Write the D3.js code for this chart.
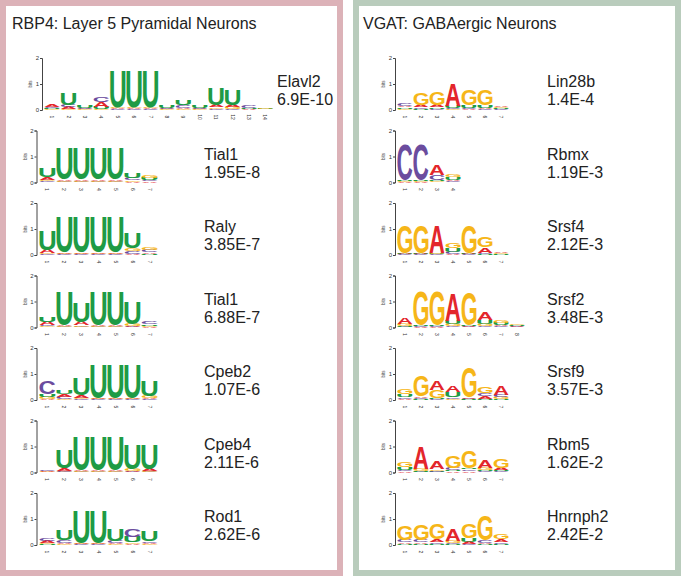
<!DOCTYPE html>
<html>
<head>
<meta charset="utf-8">
<script src="https://cdn.jsdelivr.net/npm/d3@7"></script>
<style>
  html, body { margin: 0; padding: 0; background: #ffffff; }
  svg { display: block; }
</style>
</head>
<body>
<svg id="chart" width="681" height="576"></svg>
<script>
// ---------- DATA (bits per position, order A, C, G, U) ----------
const letters = ["A", "C", "G", "U"];

// Left panel: RBP4 layer 5 pyramidal neurons
const elavl2 = [[0.08,0.06,0.03,0.03],[0.07,0.10,0.03,0.45],[0.03,0.04,0.02,0.08],[0.18,0.20,0.05,0.08],
                [0.04,0.03,0.04,1.42],[0.04,0.03,0.04,1.42],[0.04,0.03,0.04,1.42],[0.03,0.03,0.02,0.07],
                [0.05,0.10,0.04,0.20],[0.03,0.03,0.02,0.07],[0.08,0.04,0.06,0.62],[0.10,0.03,0.07,0.60],
                [0.03,0.07,0.01,0.04],[0.01,0.01,0.03,0.02]];
const tial1a = [[0.08,0.05,0.06,0.35],[0.05,0.02,0.03,1.20],[0.05,0.02,0.03,1.20],[0.05,0.02,0.03,1.20],
                [0.05,0.02,0.03,1.20],[0.03,0.10,0.05,0.18],[0.04,0.04,0.10,0.08]];
const raly   = [[0.12,0.03,0.05,0.75],[0.05,0.02,0.03,1.35],[0.05,0.02,0.03,1.35],[0.05,0.02,0.03,1.35],
                [0.05,0.02,0.03,1.35],[0.05,0.10,0.10,0.60],[0.06,0.08,0.12,0.04]];
const tial1b = [[0.12,0.05,0.04,0.20],[0.03,0.02,0.02,1.30],[0.12,0.03,0.05,0.72],[0.03,0.02,0.02,1.30],
                [0.03,0.02,0.02,1.28],[0.04,0.02,0.08,0.85],[0.03,0.10,0.04,0.05]];
const cpeb2  = [[0.05,0.50,0.07,0.10],[0.10,0.08,0.04,0.15],[0.10,0.04,0.04,0.62],[0.03,0.02,0.02,1.30],
                [0.03,0.02,0.02,1.30],[0.03,0.02,0.02,1.30],[0.04,0.03,0.07,0.60]];
const cpeb4  = [[0.03,0.06,0.02,0.01],[0.08,0.04,0.03,0.70],[0.03,0.02,0.02,1.30],[0.03,0.02,0.02,1.30],
                [0.03,0.02,0.02,1.30],[0.03,0.02,0.08,0.95],[0.08,0.02,0.04,0.95]];
const rod1   = [[0.08,0.10,0.04,0.03],[0.05,0.10,0.04,0.40],[0.03,0.02,0.02,1.22],[0.03,0.02,0.02,1.22],
                [0.05,0.08,0.03,0.45],[0.04,0.30,0.06,0.22],[0.05,0.06,0.03,0.40]];

// Right panel: VGAT GABAergic neurons
const lin28b = [[0.06,0.10,0.05,0.05],[0.08,0.06,0.45,0.04],[0.10,0.05,0.48,0.05],[0.85,0.05,0.04,0.08],
                [0.03,0.04,0.62,0.10],[0.05,0.04,0.62,0.08],[0.06,0.03,0.05,0.03]];
const rbmx   = [[0.02,1.38,0.02,0.02],[0.02,1.38,0.02,0.02],[0.40,0.20,0.05,0.05],[0.06,0.04,0.12,0.10]];
const srsf4  = [[0.03,0.02,1.05,0.02],[0.03,0.02,1.05,0.02],[1.05,0.02,0.03,0.02],[0.05,0.08,0.20,0.12],
                [0.03,0.02,1.05,0.02],[0.20,0.05,0.40,0.04],[0.06,0.01,0.05,0.03]];
const srsf2  = [[0.25,0.03,0.07,0.04],[0.02,0.02,1.30,0.02],[0.02,0.02,1.30,0.02],[1.05,0.04,0.08,0.12],
                [0.03,0.02,1.25,0.03],[0.28,0.04,0.08,0.15],[0.06,0.04,0.12,0.09],[0.03,0.02,0.04,0.03]];
const srsf9  = [[0.05,0.06,0.22,0.10],[0.06,0.04,0.80,0.03],[0.32,0.04,0.28,0.05],[0.24,0.06,0.05,0.18],
                [0.05,0.03,1.15,0.02],[0.10,0.12,0.24,0.05],[0.35,0.10,0.07,0.04]];
const rbm5   = [[0.05,0.06,0.20,0.08],[0.85,0.03,0.08,0.04],[0.30,0.04,0.06,0.03],[0.05,0.08,0.45,0.05],
                [0.06,0.06,0.65,0.06],[0.30,0.04,0.10,0.05],[0.08,0.04,0.35,0.04]];
const hnrnph2= [[0.06,0.08,0.55,0.04],[0.06,0.08,0.60,0.05],[0.10,0.06,0.58,0.05],[0.45,0.05,0.07,0.04],
                [0.08,0.05,0.55,0.15],[0.05,0.08,0.95,0.04],[0.10,0.06,0.22,0.05]];

const leftLogos  = [elavl2, tial1a, raly, tial1b, cpeb2, cpeb4, rod1];
const leftNames  = ["Elavl2", "Tial1", "Raly", "Tial1", "Cpeb2", "Cpeb4", "Rod1"];
const leftPvals  = ["6.9E-10", "1.95E-8", "3.85E-7", "6.88E-7", "1.07E-6", "2.11E-6", "2.62E-6"];
const rightLogos = [lin28b, rbmx, srsf4, srsf2, srsf9, rbm5, hnrnph2];
const rightNames = ["Lin28b", "Rbmx", "Srsf4", "Srsf2", "Srsf9", "Rbm5", "Hnrnph2"];
const rightPvals = ["1.4E-4", "1.19E-3", "2.12E-3", "3.48E-3", "3.57E-3", "1.62E-2", "2.42E-2"];
const yTicks = [0, 1, 2];

// ---------- STYLE / LAYOUT ----------
const colors = { A: "#e3262b", C: "#6b4c9e", G: "#f6b619", U: "#1e9b45" };
const FONT = "'Liberation Sans', Arial, sans-serif";
const svg = d3.select("#chart");

// panel frames
svg.append("rect").attr("x", 3).attr("y", 3).attr("width", 337).attr("height", 570)
  .attr("fill", "#fff").attr("stroke", "#dcb2b8").attr("stroke-width", 6);
svg.append("rect").attr("x", 356).attr("y", 3).attr("width", 322).attr("height", 570)
  .attr("fill", "#fff").attr("stroke", "#b9ccbc").attr("stroke-width", 6);

svg.append("text").attr("x", 12).attr("y", 29).attr("font-family", FONT).attr("font-size", 16)
  .attr("fill", "#222").text("RBP4: Layer 5 Pyramidal Neurons");
svg.append("text").attr("x", 363).attr("y", 29).attr("font-family", FONT).attr("font-size", 16)
  .attr("fill", "#222").text("VGAT: GABAergic Neurons");

// glyph ink metrics via canvas
const cv = document.createElement("canvas").getContext("2d");
cv.font = "bold 100px 'Liberation Sans'";
const ink = {};
letters.forEach(l => {
  const m = cv.measureText(l);
  ink[l] = { left: m.actualBoundingBoxLeft, right: m.actualBoundingBoxRight,
             asc: m.actualBoundingBoxAscent, desc: m.actualBoundingBoxDescent };
});

const baselines = d3.range(7).map(i => 110 + i * 72.5);
const bitPx = 26;

function drawLogo(data, opts) {
  const g = svg.append("g");
  const n = data.length;
  const y = d3.scaleLinear().domain([0, 2]).range([opts.base, opts.base - 2 * bitPx]);
  const x = d3.scaleBand().domain(d3.range(1, n + 1))
    .range([opts.left, opts.left + n * opts.pitch]).paddingInner(0.07).paddingOuter(0.03);

  // y axis
  const ax = g.append("g").attr("transform", `translate(${opts.axisX},0)`)
    .call(d3.axisLeft(y).tickValues(yTicks).tickSize(2).tickPadding(1).tickFormat(d3.format("d")));
  ax.select(".domain").attr("stroke", "#444").attr("stroke-width", 1);
  ax.selectAll(".tick line").attr("stroke", "#444");
  ax.selectAll("text").attr("font-family", FONT).attr("font-size", 6).attr("fill", "#333");
  g.append("text").attr("transform", `translate(${opts.axisX - 10},${y(1)}) rotate(-90)`)
    .attr("text-anchor", "middle").attr("font-family", FONT).attr("font-size", 4.5)
    .attr("fill", "#444").text("bits");

  // x position labels
  g.selectAll(".pos").data(d3.range(1, n + 1)).enter().append("text")
    .attr("transform", d => `translate(${x(d) + x.bandwidth() / 2},${opts.base + 7}) rotate(90)`)
    .attr("text-anchor", "middle").attr("dominant-baseline", "central")
    .attr("font-family", FONT).attr("font-size", 5).attr("fill", "#333").text(d => d);

  // letter stacks
  data.forEach((col, i) => {
    const stack = letters.map((l, k) => ({ l, h: col[k] })).sort((a, b) => a.h - b.h);
    let acc = 0;
    stack.forEach(s => {
      if (s.h <= 0.004) { acc += s.h; return; }
      const yBot = y(acc), yTop = y(acc + s.h);
      acc += s.h;
      const m = ink[s.l];
      const w = x.bandwidth(), h = yBot - yTop;
      const sx = w / (m.left + m.right), sy = h / (m.asc + m.desc);
      g.append("text")
        .attr("transform", `translate(${x(i + 1)},${yTop}) scale(${sx},${sy}) translate(${m.left},${m.asc})`)
        .attr("font-family", "'Liberation Sans'").attr("font-weight", "bold").attr("font-size", 100)
        .attr("fill", colors[s.l]).text(s.l);
    });
  });
}

leftLogos.forEach((d, i) => {
  const first = i === 0;
  drawLogo(d, { base: baselines[i], axisX: first ? 42 : 36.5, left: first ? 44 : 39, pitch: first ? 16.4 : 17 });
  const tx = first ? 277 : 204;
  svg.append("text").attr("x", tx).attr("y", baselines[i] - 23).attr("font-family", FONT)
    .attr("font-size", 16).attr("fill", "#222").text(leftNames[i]);
  svg.append("text").attr("x", tx).attr("y", baselines[i] - 5).attr("font-family", FONT)
    .attr("font-size", 16).attr("fill", "#222").text(leftPvals[i]);
});
rightLogos.forEach((d, i) => {
  drawLogo(d, { base: baselines[i], axisX: 395, left: 397, pitch: 16 });
  svg.append("text").attr("x", 547).attr("y", baselines[i] - 23).attr("font-family", FONT)
    .attr("font-size", 16).attr("fill", "#222").text(rightNames[i]);
  svg.append("text").attr("x", 547).attr("y", baselines[i] - 5).attr("font-family", FONT)
    .attr("font-size", 16).attr("fill", "#222").text(rightPvals[i]);
});
</script>
</body>
</html>
